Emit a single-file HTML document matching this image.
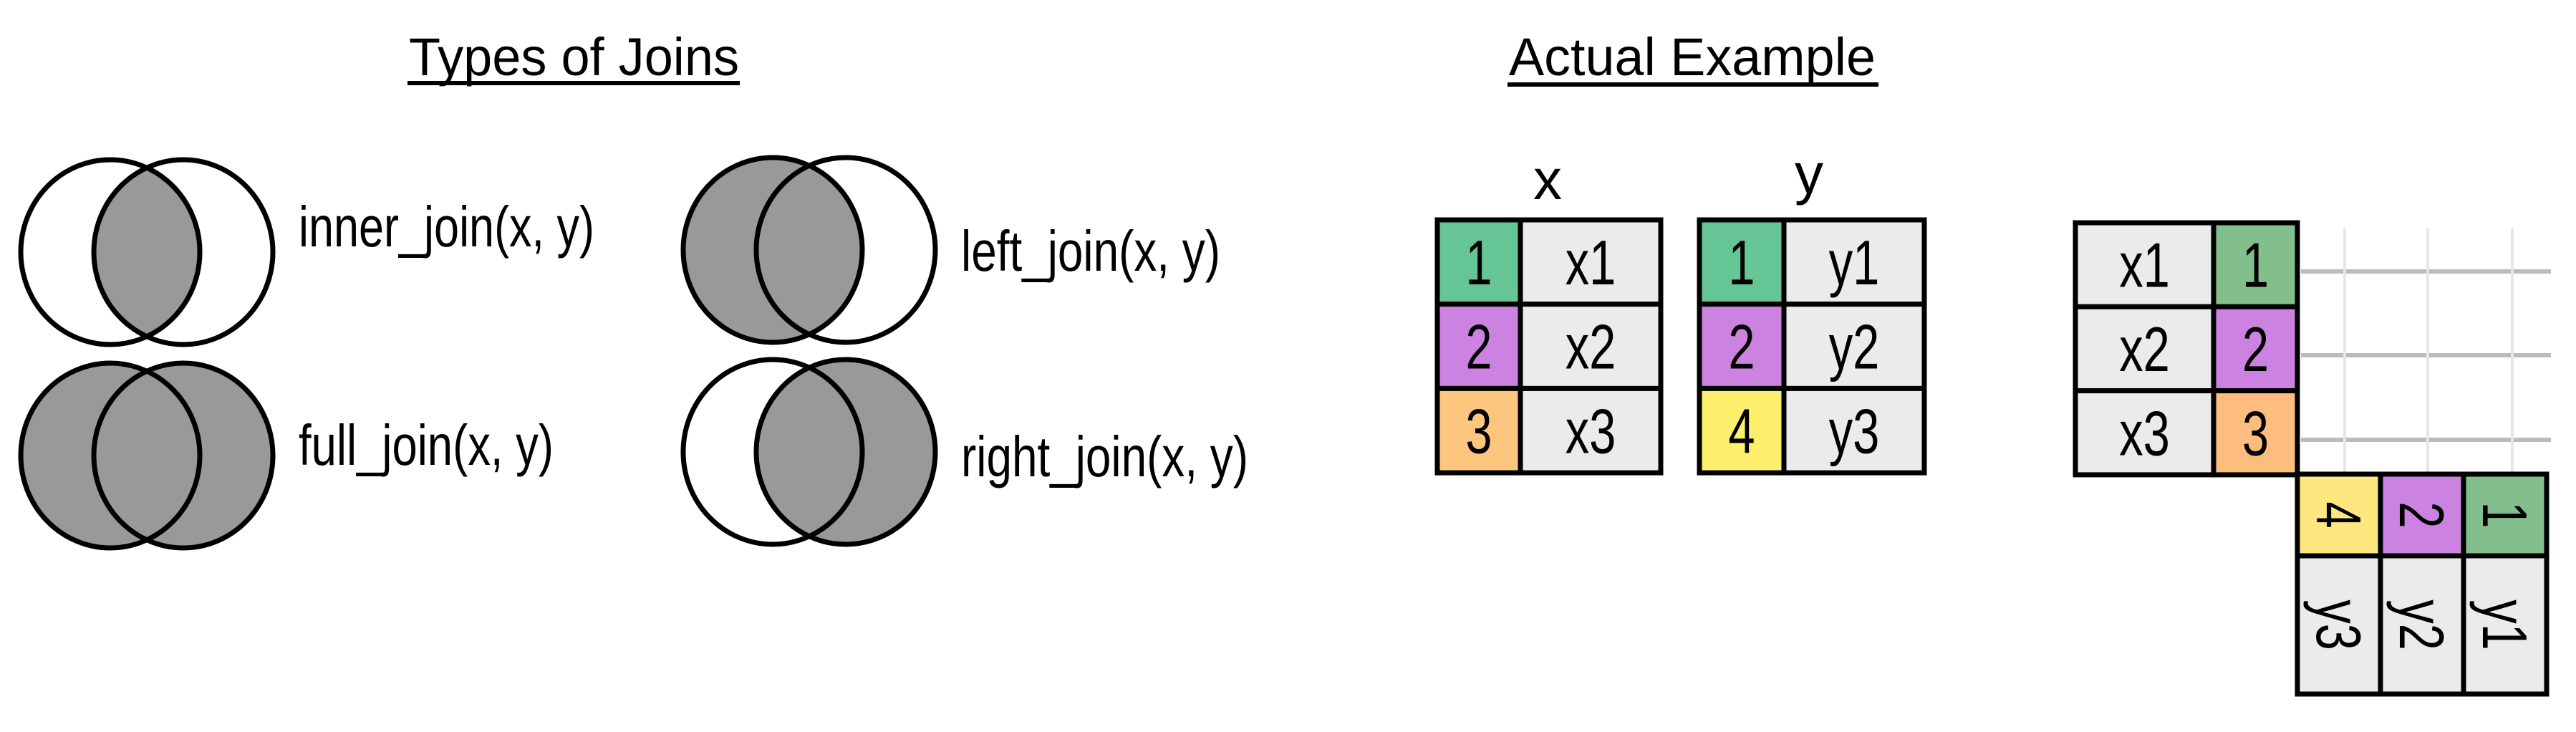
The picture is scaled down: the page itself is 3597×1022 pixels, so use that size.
<!DOCTYPE html>
<html><head><meta charset="utf-8"><style>
html,body{margin:0;padding:0;background:#fff;}
svg{display:block;}
text{font-family:"Liberation Sans Narrow","Liberation Sans",sans-serif;fill:#000;}
</style></head><body>
<svg id="root" width="3597" height="1022" viewBox="0 0 3597 1022" xmlns="http://www.w3.org/2000/svg">
<text x="571" y="105" font-size="74" textLength="461" lengthAdjust="spacingAndGlyphs">Types of Joins</text>
<rect x="569" y="113" width="464" height="6" fill="#000"/>
<text x="2107" y="105" font-size="74" textLength="512" lengthAdjust="spacingAndGlyphs">Actual Example</text>
<rect x="2105" y="115" width="518" height="6" fill="#000"/>
<g id="venns"></g>
<g id="tables"></g>
</svg>
<script>
const NS='http://www.w3.org/2000/svg';
const joinNames=['inner_join(x, y)','left_join(x, y)','full_join(x, y)','right_join(x, y)'];
const joinLeft=[false,true,true,false];
const joinRight=[false,false,true,true];
const joinCx=[205,1130,205,1130];
const joinCy=[352,349,636,631];
const labelX=[417,1342,417,1342];
const labelY=[344,378,649,665];
const labelW=[413,362,356,401];
const xKeys=['1','2','3'], xVals=['x1','x2','x3'];
const yKeys=['1','2','4'], yVals=['y1','y2','y3'];
const keyColors={'1':'#66c595','2':'#cc82e0','3':'#fdc67f','4':'#fdee6b'};
const resColors={'1':'#82bf8c','2':'#cc82e0','3':'#fdbd7f','4':'#fde880'};
function el(tag,attrs,parent){const e=document.createElementNS(NS,tag);for(const k in attrs)e.setAttribute(k,attrs[k]);parent.appendChild(e);return e;}
const V=document.getElementById('venns');
const rx=125,ry=129,off=51;
joinNames.forEach((n,i)=>{
  const g=el('g',{},V);
  
  
  const cx=joinCx[i],cy=joinCy[i],lx=cx-off,rxp=cx+off;
  const id='c'+i;
  const d=el('defs',{},g);
  const cp=el('clipPath',{id:id},d);
  el('ellipse',{cx:rxp,cy:cy,rx:rx,ry:ry},cp);
  if(joinLeft[i]) el('ellipse',{cx:lx,cy:cy,rx:rx,ry:ry,fill:'#999'},g);
  if(joinRight[i]) el('ellipse',{cx:rxp,cy:cy,rx:rx,ry:ry,fill:'#999'},g);
  el('ellipse',{cx:lx,cy:cy,rx:rx,ry:ry,fill:'#999','clip-path':'url(#'+id+')'},g);
  el('ellipse',{cx:lx,cy:cy,rx:rx,ry:ry,fill:'none',stroke:'#000','stroke-width':7},g);
  el('ellipse',{cx:rxp,cy:cy,rx:rx,ry:ry,fill:'none',stroke:'#000','stroke-width':7},g);
  const t=el('text',{x:labelX[i],y:labelY[i],'font-size':80,textLength:labelW[i],lengthAdjust:'spacingAndGlyphs'},g);
  
  
  t.textContent=n;
});
const T=document.getElementById('tables');
function cell(x,y,w,h,fill,txt,rot,name){
  const g=el('g',{},T);
  
  
  el('rect',{x:x,y:y,width:w,height:h,fill:fill,stroke:'#000','stroke-width':7},g);
  const cx=x+w/2,cy=y+h/2;
  const sc=0.76;
  const t=el('text',{x:0,y:31,'font-size':88,'text-anchor':'middle'},g);
  t.setAttribute('transform','translate('+cx+' '+cy+')'+(rot?' rotate(90)':'')+' scale('+sc+' 1)');
  t.textContent=txt;
}
[379,496,614].forEach(y=>el('line',{x1:3213,y1:y,x2:3562,y2:y,stroke:'#bbb','stroke-width':6},T));
[3274,3390,3508].forEach(x=>el('line',{x1:x,y1:319,x2:x,y2:662,stroke:'#e6e6e6','stroke-width':4},T));
const t1=el('text',{x:2161,y:278,'font-size':80,'text-anchor':'middle'},T);
t1.textContent='x';
const t2=el('text',{x:2526,y:270,'font-size':80,'text-anchor':'middle'},T);
t2.textContent='y';
const rh=117.7;
xKeys.forEach((k,i)=>{cell(2007,307+i*rh,116,rh,keyColors[k],k,false,'x-key-'+k);cell(2123,307+i*rh,196,rh,'#ebebeb',xVals[i],false,'x-val-'+xVals[i]);});
yKeys.forEach((k,i)=>{cell(2373,307+i*rh,118,rh,keyColors[k],k,false,'y-key-'+k);cell(2491,307+i*rh,196,rh,'#ebebeb',yVals[i],false,'y-val-'+yVals[i]);});
const rrh=117.3;
xKeys.forEach((k,i)=>{cell(2898,311+i*rrh,193,rrh,'#ebebeb',xVals[i],false,'result-x-val-'+xVals[i]);cell(3091,311+i*rrh,117,rrh,resColors[k],k,false,'result-x-key-'+k);});
const cw=116;
for(let j=0;j<3;j++){const i=2-j;const k=yKeys[i];
  cell(3208+j*cw,662,cw,114,resColors[k],k,true,'result-y-key-'+k);
  cell(3208+j*cw,776,cw,193,'#ebebeb',yVals[i],true,'result-y-val-'+yVals[i]);}
</script>
</body></html>
